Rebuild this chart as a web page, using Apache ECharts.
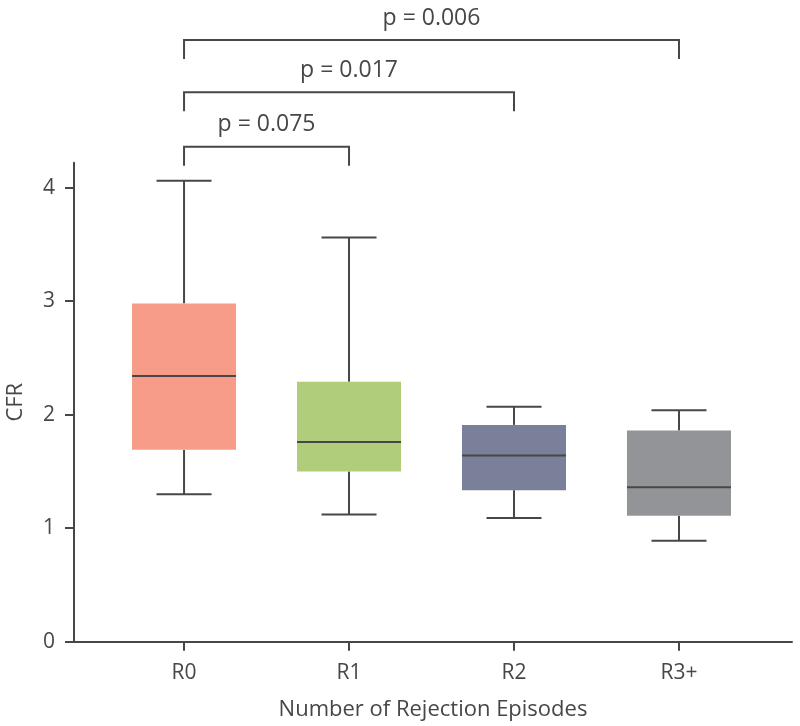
<!DOCTYPE html>
<html><head><meta charset="utf-8">
<script src="https://cdn.jsdelivr.net/npm/echarts@6/dist/echarts.min.js"></script>
<style>html,body{margin:0;padding:0;background:#fff}#c{width:800px;height:726px}</style>
</head><body><div id="c"></div>
<script>
// ---- data ----
const categories = ['R0', 'R1', 'R2', 'R3+'];
const whiskerLow = [1.30, 1.12, 1.09, 0.89];
const q1 = [1.69, 1.50, 1.335, 1.11];
const median = [2.34, 1.76, 1.64, 1.36];
const q3 = [2.98, 2.29, 1.91, 1.86];
const whiskerHigh = [4.06, 3.56, 2.07, 2.04];
const yTicks = [0, 1, 2, 3, 4];
const comparisons = [[0, 1], [0, 2], [0, 3]];
const pValues = ['p = 0.075', 'p = 0.017', 'p = 0.006'];
const bracketLevels = [4.36, 4.84, 5.30];

// ---- style ----
const INK = '#474747';
const FONT = '"Open Sans", "Noto Sans", sans-serif';
const boxColors = ['#F69C88', '#B0CD7B', '#7A8099', '#939497'];
const BOX_HALF = 52, CAP_HALF = 27.5, LEG = 19;

const boxData = categories.map((c, i) => [i, whiskerLow[i], q1[i], median[i], q3[i], whiskerHigh[i]]);
const bracketData = comparisons.map((c, k) => [c[0], c[1], bracketLevels[k], k]);

const chart = echarts.init(document.getElementById('c'), null, {renderer: 'canvas'});
chart.setOption({
  animation: false,
  backgroundColor: '#fff',
  textStyle: {fontFamily: FONT},
  grid: {left: 74, right: 8, top: 162.7, bottom: 84.3, containLabel: false, outerBoundsMode: 'none'},
  xAxis: {
    type: 'value', min: -0.667, max: 3.685,
    name: 'Number of Rejection Episodes', nameLocation: 'middle', nameGap: 57,
    nameTextStyle: {fontSize: 22, color: INK, fontFamily: FONT},
    splitLine: {show: false},
    axisLine: {show: true, onZero: false, lineStyle: {color: INK, width: 2}},
    axisTick: {show: true, length: 9, lineStyle: {color: INK, width: 2}, customValues: [0, 1, 2, 3]},
    axisLabel: {customValues: [0, 1, 2, 3], formatter: v => categories[Math.round(v)] || '', fontSize: 21, color: INK, margin: 21, fontFamily: FONT}
  },
  yAxis: {
    type: 'value', min: 0, max: 4.22,
    name: 'CFR', nameLocation: 'middle', nameRotate: 90, nameGap: 47,
    nameTextStyle: {fontSize: 22, color: INK, fontFamily: FONT},
    splitLine: {show: false},
    axisLine: {show: true, onZero: false, lineStyle: {color: INK, width: 2}},
    axisTick: {show: true, length: 9, lineStyle: {color: INK, width: 2}, customValues: yTicks},
    axisLabel: {customValues: yTicks, fontSize: 21, color: INK, margin: 19, fontFamily: FONT}
  },
  series: [
    {
      type: 'custom', clip: false,
      data: boxData,
      encode: {x: 0, y: [1, 2, 3, 4, 5]},
      renderItem: function (params, api) {
        const i = params.dataIndex;
        const x = api.value(0);
        const pLow = api.coord([x, api.value(1)]);
        const pQ1 = api.coord([x, api.value(2)]);
        const pMed = api.coord([x, api.value(3)]);
        const pQ3 = api.coord([x, api.value(4)]);
        const pHigh = api.coord([x, api.value(5)]);
        const cx = pMed[0];
        const ls = {stroke: INK, lineWidth: 2};
        return {
          type: 'group',
          children: [
            {type: 'line', shape: {x1: cx, y1: pQ3[1], x2: cx, y2: pHigh[1]}, style: ls},
            {type: 'line', shape: {x1: cx - CAP_HALF, y1: pHigh[1], x2: cx + CAP_HALF, y2: pHigh[1]}, style: ls},
            {type: 'line', shape: {x1: cx, y1: pQ1[1], x2: cx, y2: pLow[1]}, style: ls},
            {type: 'line', shape: {x1: cx - CAP_HALF, y1: pLow[1], x2: cx + CAP_HALF, y2: pLow[1]}, style: ls},
            {type: 'rect', shape: {x: cx - BOX_HALF, y: pQ3[1], width: BOX_HALF * 2, height: pQ1[1] - pQ3[1]}, style: {fill: boxColors[i]}},
            {type: 'line', shape: {x1: cx - BOX_HALF, y1: pMed[1], x2: cx + BOX_HALF, y2: pMed[1]}, style: ls}
          ]
        };
      }
    },
    {
      type: 'custom', clip: false,
      data: bracketData,
      encode: {x: [0, 1], y: 2},
      renderItem: function (params, api) {
        const k = api.value(3);
        const p1 = api.coord([api.value(0), api.value(2)]);
        const p2 = api.coord([api.value(1), api.value(2)]);
        return {
          type: 'group',
          children: [
            {type: 'polyline', shape: {points: [[p1[0], p1[1] + LEG], [p1[0], p1[1]], [p2[0], p2[1]], [p2[0], p2[1] + LEG]]},
             style: {stroke: INK, lineWidth: 2, fill: null}},
            {type: 'text', x: (p1[0] + p2[0]) / 2, y: p1[1] - 22,
             style: {text: pValues[k], fill: INK, font: '23px ' + FONT, textAlign: 'center', textVerticalAlign: 'middle'}}
          ]
        };
      }
    }
  ]
});
</script>
</body></html>
